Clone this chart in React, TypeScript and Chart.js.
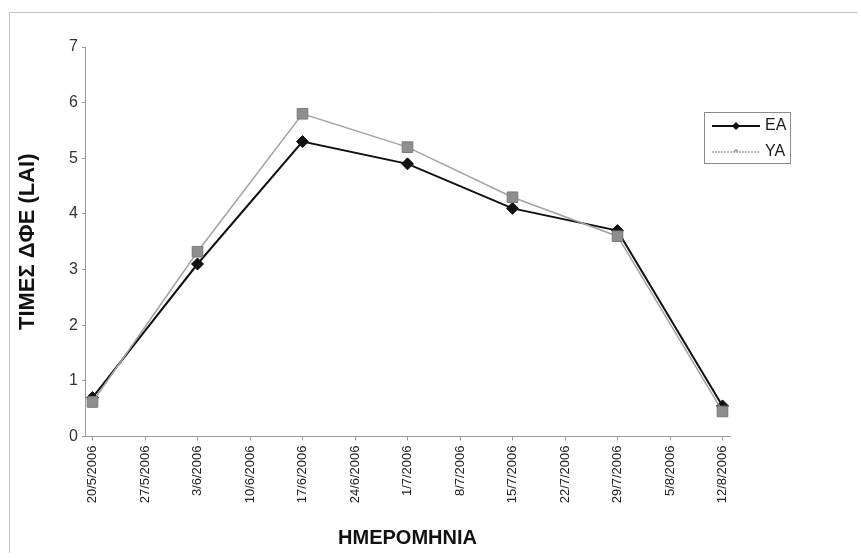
import React, { useEffect, useRef } from "react";
import { Chart, registerables } from "chart.js";

Chart.register(...registerables);

// Weekly date ticks on the horizontal axis
const tickDates = [
  "20/5/2006", "27/5/2006", "3/6/2006", "10/6/2006", "17/6/2006", "24/6/2006",
  "1/7/2006", "8/7/2006", "15/7/2006", "22/7/2006", "29/7/2006", "5/8/2006", "12/8/2006",
];

// Sampling dates (every two weeks)
const sampleDates = ["20/5/2006", "3/6/2006", "17/6/2006", "1/7/2006", "15/7/2006", "29/7/2006", "12/8/2006"];

// LAI values per treatment
const eaValues = [0.7, 3.1, 5.3, 4.9, 4.1, 3.7, 0.55];
const yaValues = [0.62, 3.32, 5.8, 5.2, 4.3, 3.6, 0.45];

const seriesNames = ["ΕΑ", "ΥΑ"];
const yTitle = "ΤΙΜΕΣ ΔΦΕ (LAI)";
const xTitle = "ΗΜΕΡΟΜΗΝΙΑ";

const FONT = "'Liberation Sans', Arial, Helvetica, sans-serif";

function toDay(s: string): number {
  const [d, m, y] = s.split("/").map(Number);
  return Date.UTC(y, m - 1, d) / 86400000;
}
const startDay = toDay(tickDates[0]);
const dayOf = (s: string) => toDay(s) - startDay;
const tickDays = tickDates.map(dayOf);
const labelByDay: Record<number, string> = {};
tickDates.forEach((t, i) => (labelByDay[tickDays[i]] = t));

const EA_COLOR = "#111111";
const YA_LINE = "#a3a3a3";
const YA_FILL = "#8e8e8e";

const frameAndLegend = {
  id: "frameAndLegend",
  afterDraw(chart: any) {
    const ctx = chart.ctx as CanvasRenderingContext2D;
    ctx.save();
    // outer frame (top and left edges)
    ctx.strokeStyle = "#c4c4c4";
    ctx.lineWidth = 1;
    ctx.beginPath();
    ctx.moveTo(9.5, 553);
    ctx.lineTo(9.5, 12.5);
    ctx.lineTo(858, 12.5);
    ctx.stroke();

    // legend box
    const bx = 704.5, by = 112.5, bw = 86, bh = 51;
    ctx.strokeStyle = "#8a8a8a";
    ctx.strokeRect(bx, by, bw, bh);

    const x1 = 712, x2 = 760, mx = 736;
    // EA entry
    let y = 126;
    ctx.strokeStyle = EA_COLOR;
    ctx.lineWidth = 2;
    ctx.beginPath();
    ctx.moveTo(x1, y);
    ctx.lineTo(x2, y);
    ctx.stroke();
    ctx.fillStyle = EA_COLOR;
    ctx.beginPath();
    ctx.moveTo(mx, y - 4);
    ctx.lineTo(mx + 4, y);
    ctx.lineTo(mx, y + 4);
    ctx.lineTo(mx - 4, y);
    ctx.closePath();
    ctx.fill();

    // YA entry
    y = 152;
    ctx.strokeStyle = YA_LINE;
    ctx.lineWidth = 1.5;
    ctx.setLineDash([2, 1]);
    ctx.beginPath();
    ctx.moveTo(x1, y);
    ctx.lineTo(x2, y);
    ctx.stroke();
    ctx.setLineDash([]);
    ctx.fillStyle = YA_FILL;
    ctx.fillRect(mx - 1.5, y - 2.5, 3, 2);

    ctx.fillStyle = "#1a1a1a";
    ctx.font = `16px ${FONT}`;
    ctx.textBaseline = "middle";
    ctx.textAlign = "left";
    ctx.fillText(seriesNames[0], 765, 126);
    ctx.fillText(seriesNames[1], 765, 152);
    ctx.restore();
  },
};

export default function App() {
  const ref = useRef<HTMLCanvasElement | null>(null);

  useEffect(() => {
    if (!ref.current) return;
    const chart = new Chart(ref.current, {
      type: "line",
      data: {
        datasets: [
          {
            label: seriesNames[0],
            data: sampleDates.map((d, i) => ({ x: dayOf(d), y: eaValues[i] })),
            borderColor: EA_COLOR,
            backgroundColor: EA_COLOR,
            borderWidth: 2,
            pointStyle: "rectRot",
            pointRadius: 6,
            pointBorderWidth: 1,
            pointBorderColor: EA_COLOR,
            pointBackgroundColor: EA_COLOR,
            order: 1,
          },
          {
            label: seriesNames[1],
            data: sampleDates.map((d, i) => ({ x: dayOf(d), y: yaValues[i] })),
            borderColor: YA_LINE,
            backgroundColor: YA_FILL,
            borderWidth: 1.5,
            pointStyle: "rect",
            pointRadius: 7.5,
            pointBorderWidth: 1,
            pointBorderColor: "#7a7a7a",
            pointBackgroundColor: YA_FILL,
            order: 0,
          },
        ],
      },
      options: {
        animation: false,
        responsive: false,
        devicePixelRatio: 1,
        layout: { padding: { left: 0, top: 47, right: 131, bottom: 0 } },
        plugins: {
          legend: { display: false },
          tooltip: { enabled: false },
        },
        scales: {
          x: {
            type: "linear",
            min: -1,
            max: 85,
            afterBuildTicks: (scale: any) => {
              scale.ticks = tickDays.map((v) => ({ value: v }));
            },
            afterFit: (scale: any) => {
              scale.height = 121.5;
            },
            grid: {
              display: true,
              drawOnChartArea: false,
              drawTicks: true,
              tickLength: 4,
              color: "#9a9a9a",
            },
            border: { display: true, color: "#9a9a9a", width: 1 },
            ticks: {
              autoSkip: false,
              maxRotation: 90,
              minRotation: 90,
              padding: 5,
              color: "#222",
              font: { family: FONT, size: 13 },
              callback: (v: any) => labelByDay[v] ?? "",
            },
            title: {
              display: true,
              text: xTitle,
              color: "#111",
              font: { family: FONT, size: 20, weight: "bold" },
              padding: { top: 0, bottom: 8 },
            },
          },
          y: {
            min: 0,
            max: 7,
            afterFit: (scale: any) => {
              scale.width = 85;
            },
            grid: {
              display: true,
              drawOnChartArea: false,
              drawTicks: true,
              tickLength: 3,
              color: "#9a9a9a",
            },
            border: { display: true, color: "#9a9a9a", width: 1 },
            ticks: {
              stepSize: 1,
              padding: 4,
              color: "#333",
              font: { family: FONT, size: 16 },
            },
            title: {
              display: true,
              text: yTitle,
              color: "#111",
              font: { family: FONT, size: 22, weight: "bold" },
              padding: { top: 15, bottom: 0 },
            },
          },
        },
      },
      plugins: [frameAndLegend],
    });
    return () => chart.destroy();
  }, []);

  return (
    <canvas
      ref={ref}
      width={861}
      height={558}
      style={{ position: "absolute", left: 0, top: 0, width: 861, height: 558, background: "#fff" }}
    />
  );
}
